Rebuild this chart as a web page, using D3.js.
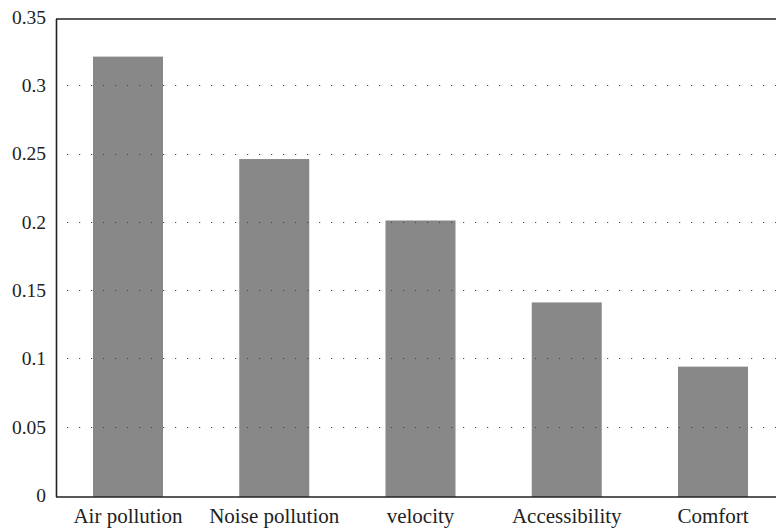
<!DOCTYPE html>
<html>
<head>
<meta charset="utf-8">
<script src="https://cdn.jsdelivr.net/npm/d3@7"></script>
<style>
  body { margin: 0; background: #fff; }
  text { font-family: "Liberation Serif", "DejaVu Serif", serif; fill: #222; }
</style>
</head>
<body>
<div id="container"></div>
<script>
/**
 * CONSTANTS AND GLOBALS
 * */
const categories = ["Air pollution", "Noise pollution", "velocity", "Accessibility", "Comfort"];
const weights = [0.321, 0.246, 0.201, 0.141, 0.094];
const yTicks = [0, 0.05, 0.1, 0.15, 0.2, 0.25, 0.3, 0.35];
const gridTicks = [0.05, 0.1, 0.15, 0.2, 0.25, 0.3];

const width = 776,
  height = 531,
  margin = { top: 19, bottom: 34, left: 56, right: 0 };

const barWidth = 70;

let svg = d3.select("#container")
  .append("svg")
  .attr("width", width)
  .attr("height", height);

// y scale, the label/grid positions sit a touch above the frame lines
const yScale = d3.scaleLinear()
  .domain([0, 0.35])
  .range([height - margin.bottom - 2, margin.top - 2]);

// bar centres
const xScale = d3.scalePoint()
  .domain(categories)
  .range([128, 713]);

// bars
svg.selectAll("rect.bar")
  .data(categories)
  .join("rect")
  .attr("class", "bar")
  .attr("x", d => xScale(d) - barWidth / 2)
  .attr("width", barWidth)
  .attr("y", (d, i) => yScale(weights[i]))
  .attr("height", (d, i) => (height - margin.bottom) - yScale(weights[i]))
  .attr("fill", "#888888");

// dotted gridlines (drawn over the bars like the original)
svg.selectAll("line.grid")
  .data(gridTicks)
  .join("line")
  .attr("class", "grid")
  .attr("x1", margin.left + 11)
  .attr("x2", width)
  .attr("y1", d => Math.round(yScale(d)) + 0.5)
  .attr("y2", d => Math.round(yScale(d)) + 0.5)
  .attr("stroke", "#444")
  .attr("stroke-width", 1.2)
  .attr("stroke-dasharray", "1.2,10.8");

// frame: left, top and bottom lines
const frame = svg.append("g").attr("stroke", "#222").attr("stroke-width", 1.6);
frame.append("line")
  .attr("x1", margin.left + 0.5).attr("x2", margin.left + 0.5)
  .attr("y1", margin.top).attr("y2", height - margin.bottom);
frame.append("line")
  .attr("x1", margin.left).attr("x2", width)
  .attr("y1", margin.top).attr("y2", margin.top);
frame.append("line")
  .attr("x1", margin.left).attr("x2", width)
  .attr("y1", height - margin.bottom).attr("y2", height - margin.bottom);

// y tick labels
svg.selectAll("text.ytick")
  .data(yTicks)
  .join("text")
  .attr("class", "ytick")
  .attr("x", margin.left - 10)
  .attr("y", d => yScale(d))
  .attr("dy", "0.35em")
  .attr("text-anchor", "end")
  .attr("font-size", 19.5)
  .text(d => d3.format("~g")(d));

// category labels
svg.selectAll("text.xlabel")
  .data(categories)
  .join("text")
  .attr("class", "xlabel")
  .attr("x", d => xScale(d))
  .attr("y", height - 8)
  .attr("text-anchor", "middle")
  .attr("font-size", 21)
  .text(d => d);
</script>
</body>
</html>
